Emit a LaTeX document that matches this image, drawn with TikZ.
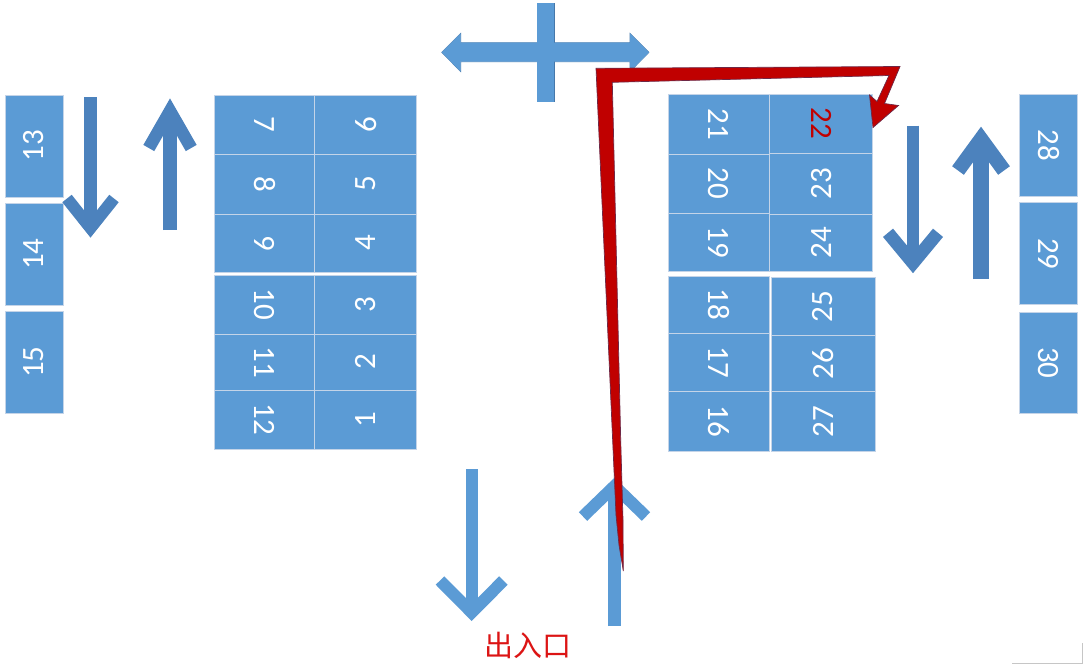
\documentclass[tikz,border=0pt]{standalone}
\usepackage{fontspec}
\newfontfamily\digitfont{Carlito}
\newfontfamily\cjk{Noto Sans CJK SC}
\usepackage{graphicx}
\definecolor{cellblue}{RGB}{91,155,213}
\definecolor{cellline}{RGB}{196,212,232}
\definecolor{arrowdark}{RGB}{76,130,189}
\definecolor{arrowlight}{RGB}{91,155,213}
\definecolor{crossline}{RGB}{70,120,170}
\definecolor{pathred}{RGB}{192,0,0}
\definecolor{pathline}{RGB}{110,40,70}
\definecolor{labelred}{RGB}{220,20,20}
\begin{document}
\begin{tikzpicture}[x=1pt,y=-1pt,
  cell/.style={draw=cellline, line width=1pt, fill=cellblue, inner sep=0pt,
    text=white, font=\digitfont\fontsize{31}{31}\selectfont},
  shaftline/.style={line width=#1},
  armline/.style={line width=#1, line join=miter}]
\useasboundingbox (0,0) rectangle (1083,664);
\fill[white] (0,0) rectangle (1083,664);

% ---------- left column ----------
\node[cell, minimum width=58pt, minimum height=102pt] (c13) at (34,146) {\rotatebox{90}{13}};
\node[cell, minimum width=58pt, minimum height=102pt] (c14) at (34,254) {\rotatebox{90}{14}};
\node[cell, minimum width=58pt, minimum height=102pt] (c15) at (34,362) {\rotatebox{90}{15}};

% ---------- left grid ----------
\node[cell, minimum width=100.7pt, minimum height=59pt] (c7)  at (264.7,124.5) {\rotatebox{-90}{7}};
\node[cell, minimum width=100.7pt, minimum height=60pt] (c8)  at (264.7,184) {\rotatebox{-90}{8}};
\node[cell, minimum width=100.7pt, minimum height=58pt] (c9)  at (264.7,243) {\rotatebox{-90}{9}};
\node[cell, minimum width=100.7pt, minimum height=59pt] (c10) at (264.7,304.5) {\rotatebox{-90}{10}};
\node[cell, minimum width=100.7pt, minimum height=56pt] (c11) at (264.7,362) {\rotatebox{-90}{11}};
\node[cell, minimum width=100.7pt, minimum height=59.3pt] (c12) at (264.7,419.7) {\rotatebox{-90}{12}};
\node[cell, minimum width=101.7pt, minimum height=59pt] (c6)  at (365.8,124.5) {\rotatebox{90}{6}};
\node[cell, minimum width=101.7pt, minimum height=60pt] (c5)  at (365.8,184) {\rotatebox{90}{5}};
\node[cell, minimum width=101.7pt, minimum height=58pt] (c4)  at (365.8,243) {\rotatebox{90}{4}};
\node[cell, minimum width=101.7pt, minimum height=59pt] (c3)  at (365.8,304.5) {\rotatebox{90}{3}};
\node[cell, minimum width=101.7pt, minimum height=56pt] (c2)  at (365.8,362) {\rotatebox{90}{2}};
\node[cell, minimum width=101.7pt, minimum height=59.3pt] (c1)  at (365.8,419.7) {\rotatebox{90}{1}};

% ---------- right grid ----------
\node[cell, minimum width=101pt, minimum height=60pt] (c21) at (718.8,124) {\rotatebox{-90}{21}};
\node[cell, minimum width=101pt, minimum height=59.3pt] (c20) at (718.8,183.7) {\rotatebox{-90}{20}};
\node[cell, minimum width=101pt, minimum height=58.4pt] (c19) at (718.8,242.5) {\rotatebox{-90}{19}};
\node[cell, minimum width=101pt, minimum height=57.3pt] (c18) at (718.8,304.7) {\rotatebox{-90}{18}};
\node[cell, minimum width=101pt, minimum height=58.4pt] (c17) at (718.8,362.5) {\rotatebox{-90}{17}};
\node[cell, minimum width=101pt, minimum height=60pt] (c16) at (718.8,421.7) {\rotatebox{-90}{16}};
\node[cell, minimum width=102.7pt, minimum height=59.3pt] (c22) at (821.3,123.7) {\rotatebox{-90}{\textcolor{pathred}{22}}};
\node[cell, minimum width=102.7pt, minimum height=60.7pt] (c23) at (821.3,183.7) {\rotatebox{90}{23}};
\node[cell, minimum width=102.7pt, minimum height=57.7pt] (c24) at (821.3,242.9) {\rotatebox{90}{24}};
\node[cell, minimum width=104pt, minimum height=57.3pt] (c25) at (823,306.4) {\rotatebox{90}{25}};
\node[cell, minimum width=104pt, minimum height=56.7pt] (c26) at (823,363.4) {\rotatebox{90}{26}};
\node[cell, minimum width=104pt, minimum height=60pt] (c27) at (823,421.7) {\rotatebox{90}{27}};

% ---------- right column ----------
\node[cell, minimum width=58.4pt, minimum height=102pt] (c28) at (1048.5,145) {\rotatebox{-90}{28}};
\node[cell, minimum width=58.4pt, minimum height=102.3pt] (c29) at (1048.5,253.8) {\rotatebox{-90}{29}};
\node[cell, minimum width=58.4pt, minimum height=101pt] (c30) at (1048.5,362.8) {\rotatebox{-90}{30}};

% ---------- open arrows ----------
% left down
\coordinate (a1s) at (90.5,97);   \coordinate (a1v) at (90.5,228);
\coordinate (a1l) at (67,198.5);  \coordinate (a1r) at (114,198.5);
\draw[arrowdark, shaftline=13pt] (a1s) -- (a1v);
\draw[arrowdark, armline=12pt] (a1l) -- (a1v) -- (a1r);
% left up
\coordinate (a2s) at (170,230);   \coordinate (a2v) at (170,111);
\coordinate (a2l) at (148.8,148); \coordinate (a2r) at (191.2,148);
\draw[arrowdark, shaftline=14pt] (a2s) -- (a2v);
\draw[arrowdark, armline=12.5pt] (a2l) -- (a2v) -- (a2r);
% right down
\coordinate (a3s) at (913,125.7); \coordinate (a3v) at (913,263);
\coordinate (a3l) at (888,232.8); \coordinate (a3r) at (938,232.8);
\draw[arrowdark, shaftline=12.7pt] (a3s) -- (a3v);
\draw[arrowdark, armline=13pt] (a3l) -- (a3v) -- (a3r);
% right up
\coordinate (a4s) at (981,279);   \coordinate (a4v) at (981,139);
\coordinate (a4l) at (958,170.5); \coordinate (a4r) at (1004,170.5);
\draw[arrowdark, shaftline=16pt] (a4s) -- (a4v);
\draw[arrowdark, armline=14.5pt] (a4l) -- (a4v) -- (a4r);
% bottom down
\coordinate (a5s) at (471.7,469); \coordinate (a5v) at (471.7,612.5);
\coordinate (a5l) at (440,580.5); \coordinate (a5r) at (503.4,580.5);
\draw[arrowlight, shaftline=12pt] (a5s) -- (a5v);
\draw[arrowlight, armline=12pt] (a5l) -- (a5v) -- (a5r);
% bottom up
\coordinate (a6s) at (614.5,626); \coordinate (a6v) at (614.5,486);
\coordinate (a6l) at (583,516.5); \coordinate (a6r) at (646,516.5);
\draw[arrowlight, shaftline=12.4pt] (a6s) -- (a6v);
\draw[arrowlight, armline=12pt] (a6l) -- (a6v) -- (a6r);

% ---------- cross with double arrow ----------
\draw[crossline, line width=0.6pt]
  (441.7,52.3) -- (460.7,33.3) -- (460.7,42.7) -- (630,42.7) -- (630,33.3)
  -- (649,52.3) -- (630,71.7) -- (630,61.7) -- (460.7,61.7) -- (460.7,71.7) -- cycle;
\draw[crossline, line width=0.6pt] (537.3,3) rectangle (554,101.7);
\fill[arrowlight]
  (441.7,52.3) -- (460.7,33.3) -- (460.7,42.7) -- (630,42.7) -- (630,33.3)
  -- (649,52.3) -- (630,71.7) -- (630,61.7) -- (460.7,61.7) -- (460.7,71.7) -- cycle;
\fill[arrowlight] (537.3,3) rectangle (554,101.7);

% ---------- red route ----------
\filldraw[fill=pathred, draw=pathline, line width=0.7pt, line join=miter]
  (623.3,571) -- (619,545) -- (616,515) -- (596,68.3) -- (900,66.5)
  -- (884.5,103.5) -- (898.5,105.5) -- (873,127.5) -- (869.5,95)
  -- (877,101.5) -- (889,75.5) -- (612.3,82.3) -- (620.7,440)
  -- (623,520) -- cycle;

% ---------- entrance label ----------
\node[text=labelred, font=\cjk\fontsize{29}{29}\selectfont, inner sep=0pt] (entry) at (527.5,645) {出入口};

% faint corner mark
\draw[gray!45, line width=1pt] (1012,663) -- (1082,663) -- (1082,643);
\end{tikzpicture}
\end{document}
